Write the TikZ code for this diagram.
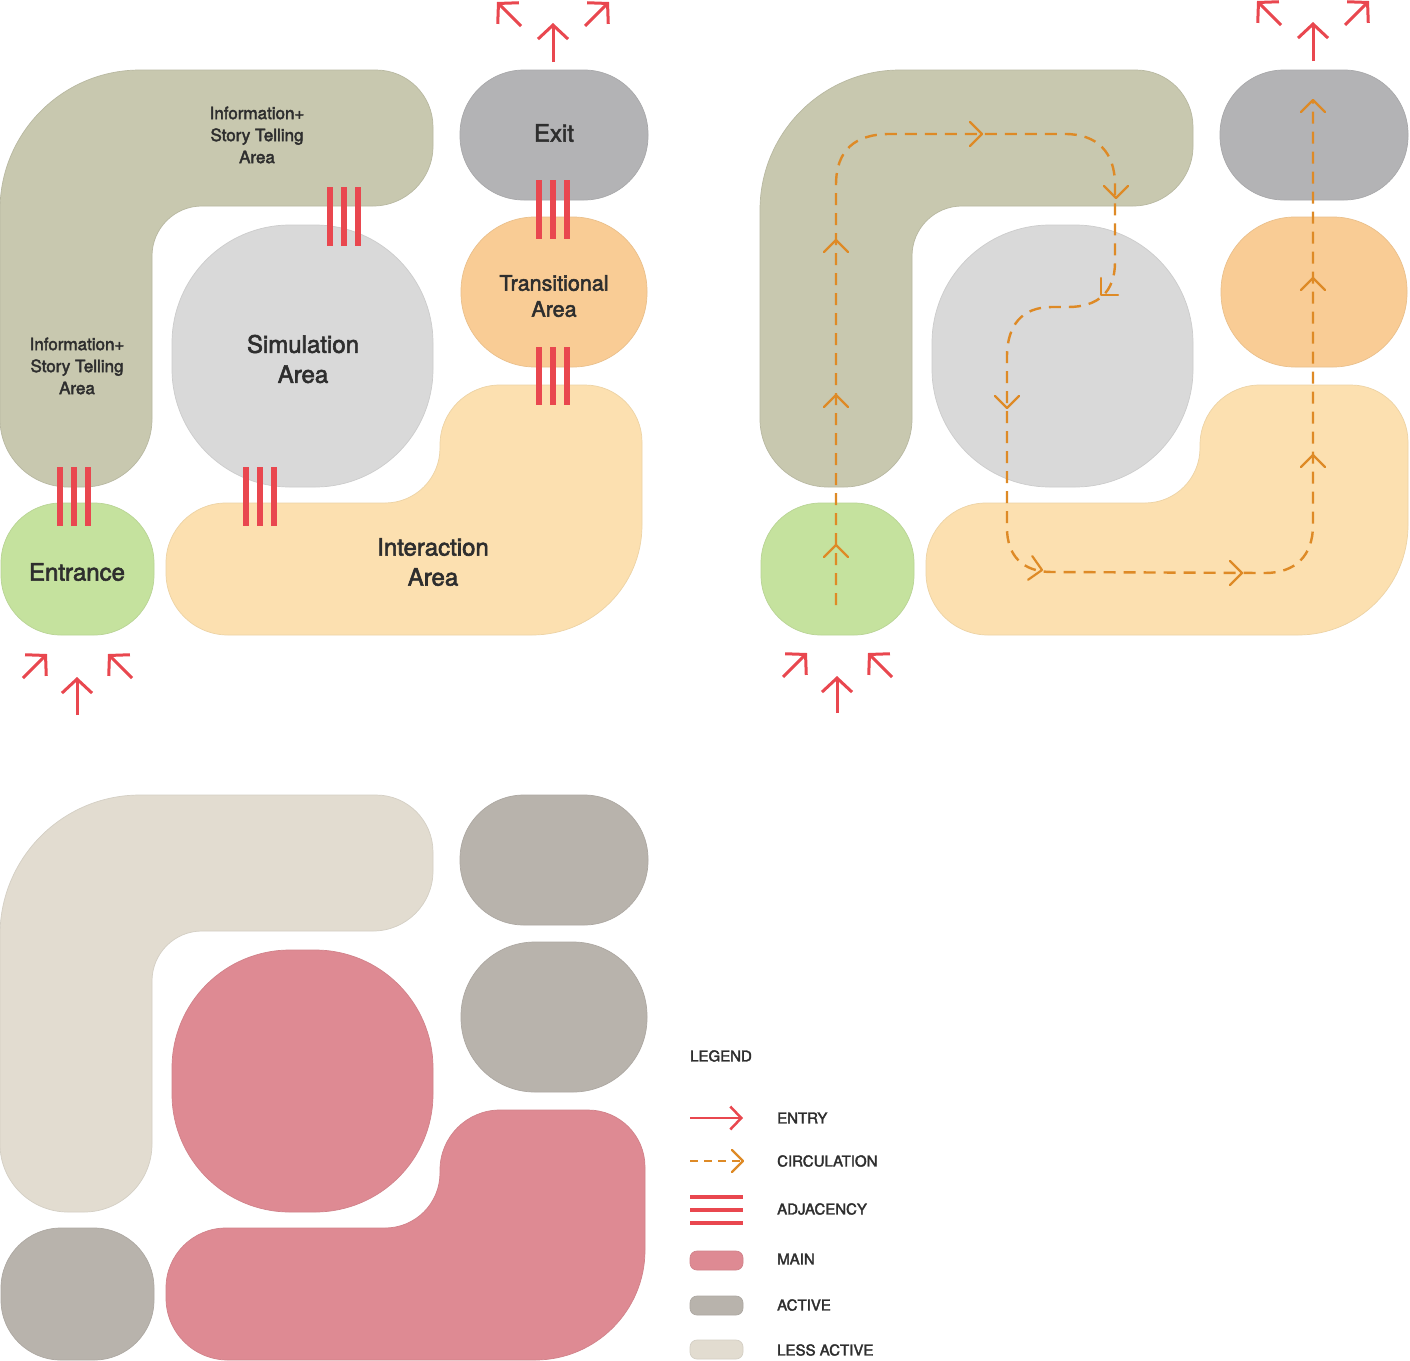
\documentclass[tikz,border=0pt]{standalone}
\usepackage{fontspec}
\setmainfont{TeX Gyre Heros}
\newfontfamily\medfont{TeX Gyre Heros}[FakeBold=2.4]
\usetikzlibrary{arrows.meta}
\definecolor{infoc}{HTML}{C8C8AF}
\definecolor{simc}{HTML}{D9D9D9}
\definecolor{exitc}{HTML}{B3B3B5}
\definecolor{transc}{HTML}{F9CC95}
\definecolor{interc}{HTML}{FCE0B0}
\definecolor{entc}{HTML}{C5E29E}
\definecolor{redc}{HTML}{E9474F}
\definecolor{orngc}{HTML}{DE8A26}
\definecolor{mainc}{HTML}{DE8A93}
\definecolor{activec}{HTML}{B8B3AC}
\definecolor{lessc}{HTML}{E2DCD0}
\definecolor{txtc}{HTML}{2E2E2E}
\newcommand{\myLpath}{(0,422) -- (0,210) arc[start angle=180,end angle=270,radius=140] -- (376,70) arc[start angle=270,end angle=360,radius=57] -- (433,146) arc[start angle=0,end angle=90,radius=60] -- (202,206) arc[start angle=270,end angle=180,radius=50] -- (152,419) arc[start angle=0,end angle=90,radius=68] -- (84,487) -- (68,487) arc[start angle=90,end angle=180,radius=68] -- cycle}
\newcommand{\myIpath}[1]{(166,569) -- (166,563) arc[start angle=180,end angle=270,radius=60] -- (385,503) arc[start angle=90,end angle=0,radius=55] -- (440,445) arc[start angle=180,end angle=270,radius=60] -- ({#1-57},385) arc[start angle=270,end angle=360,radius=57] -- (#1,525) arc[start angle=0,end angle=90,radius=110] -- (228,635) arc[start angle=90,end angle=180,radius=62] -- cycle}
\newcommand{\mySimpath}{(172,225) rectangle (433,487)}
\newcommand{\myExitpath}{(460,70) rectangle (648,200)}
\newcommand{\myTranspath}{(461,217) rectangle (647,367)}
\newcommand{\myEntpath}{(1,503) rectangle (154,635)}
\tikzset{
  area/.style={line width=0.7pt},
  lbl/.style={text=txtc, align=center, inner sep=0pt},
  leg/.style={text=txtc, anchor=west, inner sep=0pt, font=\medfont\fontsize{15}{18}\selectfont},
  adj/.style={draw=redc, line width=6.5pt},
  entry/.style={draw=redc, line width=3pt, -{Straight Barb[length=14pt,width=30pt]}},
  circ/.style={draw=orngc, line width=2.4pt, dash pattern=on 12pt off 8pt},
  chevron/.pic={\draw[orngc, line width=2.2pt, solid, line cap=round, line join=round] (-12,12) -- (0,0) -- (-12,-12);},
}
\begin{document}
\begin{tikzpicture}[x=1pt,y=-1pt]
\useasboundingbox (0,0) rectangle (1410,1360);
\fill[white] (0,0) rectangle (1410,1360);

% ---------------- Panel 1 ----------------
\begin{scope}
\filldraw[area, fill=infoc, draw=infoc!92!black] \myLpath;
\filldraw[area, fill=simc, draw=simc!94!black, rounded corners=118pt] \mySimpath;
\filldraw[area, fill=exitc, draw=exitc!94!black, rounded corners=64pt] \myExitpath;
\filldraw[area, fill=transc, draw=transc!94!black, rounded corners=74pt] \myTranspath;
\filldraw[area, fill=interc, draw=interc!94!black] \myIpath{642};
\filldraw[area, fill=entc, draw=entc!94!black, rounded corners=60pt] \myEntpath;

\node[lbl, font=\medfont\fontsize{17}{22}\selectfont] (info1) at (257,135) {Information+\\Story Telling\\Area};
\node[lbl, font=\medfont\fontsize{17}{22}\selectfont] (info2) at (77,366) {Information+\\Story Telling\\Area};
\node[lbl, font=\medfont\fontsize{24}{30}\selectfont] (sim) at (303,359) {Simulation\\Area};
\node[lbl, font=\medfont\fontsize{24}{30}\selectfont] (exit) at (554,133) {Exit};
\node[lbl, font=\medfont\fontsize{21.5}{26}\selectfont] (trans) at (554,296) {Transitional\\Area};
\node[lbl, font=\medfont\fontsize{24}{30}\selectfont] (ent) at (77,572) {Entrance};
\node[lbl, font=\medfont\fontsize{24}{30}\selectfont] (inter) at (433,562) {Interaction\\Area};

% adjacency bars
\foreach \dx in {-14,0,14}{
  \draw[adj] (344+\dx,187) -- (344+\dx,246);
  \draw[adj] (553+\dx,180) -- (553+\dx,239);
  \draw[adj] (553+\dx,347) -- (553+\dx,405);
  \draw[adj] (74+\dx,467) -- (74+\dx,526);
  \draw[adj] (260+\dx,467) -- (260+\dx,526);
}

% entry arrows
\coordinate (e1a) at (77,715); \coordinate (e1b) at (77,677);
\coordinate (e2a) at (23,678); \coordinate (e2b) at (47,654);
\coordinate (e3a) at (132,678); \coordinate (e3b) at (108,654);
\draw[entry] (e1a) -- (e1b);
\draw[entry] (e2a) -- (e2b);
\draw[entry] (e3a) -- (e3b);
\coordinate (x1a) at (553,62); \coordinate (x1b) at (553,23);
\coordinate (x2a) at (521,26); \coordinate (x2b) at (497,2);
\coordinate (x3a) at (585,26); \coordinate (x3b) at (609,2);
\draw[entry] (x1a) -- (x1b);
\draw[entry] (x2a) -- (x2b);
\draw[entry] (x3a) -- (x3b);
\end{scope}

% ---------------- Panel 2 ----------------
\begin{scope}[shift={(760,0)}]
\filldraw[area, fill=infoc, draw=infoc!92!black] \myLpath;
\filldraw[area, fill=simc, draw=simc!94!black, rounded corners=118pt] \mySimpath;
\filldraw[area, fill=exitc, draw=exitc!94!black, rounded corners=64pt] \myExitpath;
\filldraw[area, fill=transc, draw=transc!94!black, rounded corners=74pt] \myTranspath;
\filldraw[area, fill=interc, draw=interc!94!black] \myIpath{648};
\filldraw[area, fill=entc, draw=entc!94!black, rounded corners=60pt] \myEntpath;

\coordinate (f1a) at (77,713); \coordinate (f1b) at (77,676);
\coordinate (f2a) at (23,677); \coordinate (f2b) at (47,653);
\coordinate (f3a) at (132,677); \coordinate (f3b) at (108,653);
\draw[entry] (f1a) -- (f1b);
\draw[entry] (f2a) -- (f2b);
\draw[entry] (f3a) -- (f3b);
\coordinate (y1a) at (553,61); \coordinate (y1b) at (553,22);
\coordinate (y2a) at (521,25); \coordinate (y2b) at (497,1);
\coordinate (y3a) at (585,25); \coordinate (y3b) at (609,1);
\draw[entry] (y1a) -- (y1b);
\draw[entry] (y2a) -- (y2b);
\draw[entry] (y3a) -- (y3b);
\end{scope}

% circulation path
\coordinate (cs) at (836,605);
\coordinate (ce) at (1313,100);
\draw[circ] (cs) -- (836,185) .. controls (836,150) and (855,134) .. (890,134)
  -- (1065,134) .. controls (1097,134) and (1115,152) .. (1115,185)
  -- (1115,262) .. controls (1115,292) and (1098,307) .. (1068,307)
  -- (1052,307) .. controls (1022,307) and (1007,325) .. (1007,357)
  -- (1007,528) .. controls (1007,555) and (1022,572) .. (1052,572)
  -- (1265,573) .. controls (1295,573) and (1313,556) .. (1313,525)
  -- (ce);
\pic[rotate=90] at (836,545) {chevron};
\pic[rotate=90] at (836,395) {chevron};
\pic[rotate=90] at (836,240) {chevron};
\pic at (982,134) {chevron};
\pic[rotate=-90] at (1116,198) {chevron};
\pic[rotate=-135] at (1101,295) {chevron};
\pic[rotate=-90] at (1007,408) {chevron};
\pic[rotate=-10] at (1042,570) {chevron};
\pic at (1242,573) {chevron};
\pic[rotate=90] at (1313,455) {chevron};
\pic[rotate=90] at (1313,278) {chevron};
\pic[rotate=90] at (1313,100) {chevron};

% ---------------- Panel 3 ----------------
\begin{scope}[shift={(0,725)}]
\filldraw[area, fill=lessc, draw=lessc!94!black] \myLpath;
\filldraw[area, fill=mainc, draw=mainc!94!black, rounded corners=118pt] \mySimpath;
\filldraw[area, fill=activec, draw=activec!94!black, rounded corners=64pt] \myExitpath;
\filldraw[area, fill=activec, draw=activec!94!black, rounded corners=74pt] \myTranspath;
\filldraw[area, fill=mainc, draw=mainc!94!black] \myIpath{645};
\filldraw[area, fill=activec, draw=activec!94!black, rounded corners=60pt] \myEntpath;
\end{scope}

% ---------------- Legend ----------------
\node[leg] (legt) at (690,1056) {LEGEND};
\coordinate (l1a) at (690,1118); \coordinate (l1b) at (743,1118);
\draw[draw=redc, line width=2.5pt, -{Straight Barb[length=11pt,width=23pt]}] (l1a) -- (l1b);
\node[leg] (lentry) at (777,1118) {ENTRY};
\coordinate (l2a) at (690,1161); \coordinate (l2b) at (742,1161);
\draw[draw=orngc, line width=2.3pt, dash pattern=on 8pt off 6pt] (l2a) -- (l2b);
\draw[orngc, line width=2.3pt, line cap=round, line join=round] (732,1150) -- (743,1161) -- (732,1172);
\node[leg] (lcirc) at (777,1161) {CIRCULATION};
\foreach \yy in {1197,1210,1223}{ \draw[redc, line width=4.5pt] (690,\yy) -- (743,\yy); }
\node[leg] (ladj) at (777,1209) {ADJACENCY};
\filldraw[area, fill=mainc, draw=mainc!94!black, rounded corners=7pt] (690,1251) rectangle (743,1270);
\node[leg] (lmain) at (777,1259) {MAIN};
\filldraw[area, fill=activec, draw=activec!94!black, rounded corners=7pt] (690,1296) rectangle (743,1315);
\node[leg] (lact) at (777,1305) {ACTIVE};
\filldraw[area, fill=lessc, draw=lessc!94!black, rounded corners=7pt] (690,1340) rectangle (743,1359);
\node[leg] (lless) at (777,1350) {LESS ACTIVE};
\end{tikzpicture}
\end{document}
